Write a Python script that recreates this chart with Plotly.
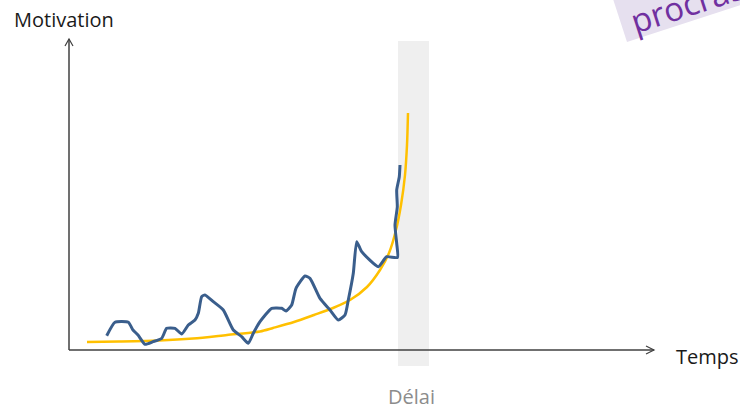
import math
import plotly.graph_objects as go

W, H = 740, 410

# Motivation that grows as the deadline approaches (smooth trend)
trend_t = [18, 50, 90, 124, 158, 191, 204, 225, 245, 264, 281, 298, 311, 320, 327, 332, 336, 338, 339]
trend_m = [8, 8.5, 9.5, 11.5, 15, 18.5, 22, 28, 35, 42, 50, 63, 80, 97, 120, 145, 175, 205, 237]

# Actual, fluctuating motivation
actual_t = [37.7, 46, 59.3, 64, 69, 76, 84, 92.7, 97.7, 106, 112.7, 119.3, 126, 129.3, 132.7, 136,
            144.3, 154.3, 164.3, 172.7, 179.3, 184.3, 191, 202.7, 212.7, 217, 222.7, 227, 236, 241,
            251, 261, 269.3, 276, 279.3, 284.3, 287.7, 292.7, 309.3, 317.7, 328.5, 327.7, 326,
            328.3, 327.7, 330.3, 331]
actual_m = [14.3, 27.7, 27.7, 20, 15, 5.7, 8.3, 11.7, 21.7, 21.7, 16, 25, 30, 36.7, 53.3, 55,
            48.3, 40, 20, 13.3, 6.7, 16.7, 28.3, 41.7, 41.7, 39, 45, 61.7, 74, 71.7,
            51.7, 40, 30, 35, 50, 76.7, 108.3, 98.3, 83.3, 93.3, 92.5, 106.7, 125,
            143.3, 160, 173.3, 185]

# Deadline window
deadline_start, deadline_end = 329, 360
deadline_bottom, deadline_top = -16, 309

x_axis_end, y_axis_end = 585, 311

fig = go.Figure()

fig.add_trace(go.Scatter(
    x=trend_t, y=trend_m, mode="lines",
    line=dict(color="#ffc000", width=2.5, shape="spline", smoothing=0.8),
    hoverinfo="skip", showlegend=False))

fig.add_trace(go.Scatter(
    x=actual_t, y=actual_m, mode="lines",
    line=dict(color="#3a5e8c", width=3, shape="spline", smoothing=0.5),
    hoverinfo="skip", showlegend=False))

shapes = [
    # deadline band
    dict(type="rect", xref="x", yref="y", layer="below",
         x0=deadline_start, x1=deadline_end, y0=deadline_bottom, y1=deadline_top,
         fillcolor="#efefef", line=dict(width=0)),
    # axes
    dict(type="line", xref="x", yref="y", x0=0, y0=0, x1=x_axis_end, y1=0,
         line=dict(color="#404040", width=1.5)),
    dict(type="line", xref="x", yref="y", x0=0, y0=0, x1=0, y1=y_axis_end,
         line=dict(color="#404040", width=1.5)),
    # open arrowheads
    dict(type="path", xref="x", yref="y",
         path=f"M {x_axis_end-8},{4} L {x_axis_end},{0} L {x_axis_end-8},{-4}",
         line=dict(color="#404040", width=1.2)),
    dict(type="path", xref="x", yref="y",
         path=f"M {-4},{y_axis_end-7} L {0},{y_axis_end} L {4},{y_axis_end-7}",
         line=dict(color="#404040", width=1.2)),
]

# Tilted label box in the top-right corner
ang = math.radians(18)
d = (math.cos(ang), -math.sin(ang))
up = (-math.sin(ang), -math.cos(ang))
bl = (627, 42)
corners = [bl,
           (bl[0] + d[0] * 260, bl[1] + d[1] * 260),
           (bl[0] + d[0] * 260 + up[0] * 80, bl[1] + d[1] * 260 + up[1] * 80),
           (bl[0] + up[0] * 80, bl[1] + up[1] * 80)]


def to_paper(p):
    return p[0] / W, 1 - p[1] / H


pp = [to_paper(c) for c in corners]
path = "M " + " L ".join(f"{x:.4f},{y:.4f}" for x, y in pp) + " Z"
shapes.append(dict(type="path", xref="paper", yref="paper", path=path,
                   fillcolor="#e6e0ef", line=dict(width=0)))

font = "Open Sans, Liberation Sans, sans-serif"
label_size = 33
txt_len = 7.13 * label_size
start = (632, 22)
center = (start[0] + d[0] * txt_len / 2, start[1] + d[1] * txt_len / 2)
cx, cy = to_paper(center)

annotations = [
    dict(text="Motivation", xref="paper", yref="paper", x=12 / W, y=1 - 19 / H,
         xanchor="left", yanchor="middle", showarrow=False,
         font=dict(family=font, size=20, color="#1a1a1a")),
    dict(text="Temps", xref="paper", yref="paper", x=674 / W, y=1 - 356 / H,
         xanchor="left", yanchor="middle", showarrow=False,
         font=dict(family=font, size=20, color="#1a1a1a")),
    dict(text="Délai", xref="paper", yref="paper", x=411 / W, y=1 - 396 / H,
         xanchor="center", yanchor="middle", showarrow=False,
         font=dict(family=font, size=20, color="#8c8c8c")),
    dict(text="procrastination", xref="paper", yref="paper", x=cx, y=cy,
         xanchor="center", yanchor="middle", showarrow=False, textangle=-18,
         font=dict(family=font, size=label_size, color="#7030a0")),
]

fig.update_layout(
    width=W, height=H, margin=dict(l=0, r=0, t=0, b=0),
    paper_bgcolor="white", plot_bgcolor="white",
    xaxis=dict(range=[-69, W - 69], visible=False, fixedrange=True),
    yaxis=dict(range=[350 - H, 350], visible=False, fixedrange=True),
    shapes=shapes, annotations=annotations, showlegend=False,
)

fig.write_html("out.html")
